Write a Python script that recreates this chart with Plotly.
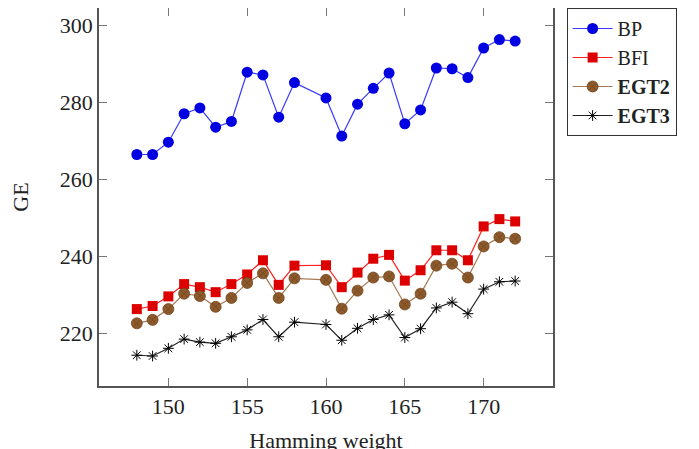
import plotly.graph_objects as go

hamming_weight = [148, 149, 150, 151, 152, 153, 154, 155, 156, 157, 158, 160,
                  161, 162, 163, 164, 165, 166, 167, 168, 169, 170, 171, 172]

bp = [266.5, 266.5, 269.7, 277.1, 278.6, 273.6, 275.1, 287.9, 287.2, 276.2, 285.2, 281.2,
      271.3, 279.6, 283.7, 287.7, 274.5, 278.1, 289.0, 288.8, 286.5, 294.2, 296.4, 296.0]
bfi = [226.3, 227.1, 229.6, 232.8, 232.0, 230.7, 232.8, 235.3, 239.0, 232.6, 237.6, 237.7,
       232.0, 235.8, 239.4, 240.4, 233.7, 236.4, 241.6, 241.6, 239.0, 247.8, 249.7, 249.1]
egt2 = [222.6, 223.5, 226.3, 230.3, 229.7, 226.9, 229.2, 233.1, 235.6, 229.2, 234.3, 233.9,
        226.4, 231.1, 234.5, 234.8, 227.5, 230.3, 237.6, 238.1, 234.5, 242.6, 245.0, 244.6]
egt3 = [214.3, 214.1, 216.1, 218.5, 217.7, 217.4, 219.1, 220.9, 223.6, 219.1, 222.9, 222.3,
        218.2, 221.3, 223.6, 224.8, 218.9, 221.2, 226.6, 228.1, 225.1, 231.5, 233.4, 233.6]

series_names = ["BP", "BFI", "<b>EGT2</b>", "<b>EGT3</b>"]
x_ticks = [150, 155, 160, 165, 170]
y_ticks = [220, 240, 260, 280, 300]

FONT = "Liberation Serif"

fig = go.Figure()
fig.add_trace(go.Scatter(
    x=hamming_weight, y=bp, name=series_names[0], mode="lines+markers",
    line=dict(color="#3a3aff", width=1.2),
    marker=dict(symbol="circle", size=11, color="#0000e0", line=dict(width=0))))
fig.add_trace(go.Scatter(
    x=hamming_weight, y=bfi, name=series_names[1], mode="lines+markers",
    line=dict(color="#ff2020", width=1.2),
    marker=dict(symbol="square", size=10, color="#dd0000", line=dict(width=0))))
fig.add_trace(go.Scatter(
    x=hamming_weight, y=egt2, name=series_names[2], mode="lines+markers",
    line=dict(color="#a57a55", width=1.2),
    marker=dict(symbol="circle-x", size=11, color="#8c5a2c",
                line=dict(width=0.8, color="#74461c"))))
fig.add_trace(go.Scatter(
    x=hamming_weight, y=egt3, name=series_names[3], mode="lines+markers",
    line=dict(color="#222222", width=1.2),
    marker=dict(symbol="asterisk-open", size=9, color="black",
                line=dict(width=1, color="black"))))

axis_common = dict(
    showgrid=False, zeroline=False, showline=True, linecolor="#555555", linewidth=1.5,
    mirror="allticks", ticks="inside", ticklen=8, tickcolor="#777777", tickwidth=1,
    tickfont=dict(family=FONT, size=22, color="#222"),
)

# the page body adds an 8px offset, so margins are compensated
fig.update_layout(
    width=699, height=449,
    paper_bgcolor="white", plot_bgcolor="white",
    margin=dict(l=91, r=154, t=0, b=71, autoexpand=False),
    font=dict(family=FONT, size=21, color="#222"),
    xaxis=dict(range=[145.6, 174.4], tickvals=x_ticks, ticktext=[str(v) for v in x_ticks],
               title=dict(text="Hamming weight", font=dict(family=FONT, size=22), standoff=14),
               automargin=False, **axis_common),
    yaxis=dict(range=[206.3, 304.6], tickvals=y_ticks, ticktext=[str(v) for v in y_ticks],
               title=dict(text="GE", font=dict(family=FONT, size=22), standoff=30),
               automargin=False, **axis_common),
    legend=dict(x=1.03, xanchor="left", y=1.0, yanchor="top",
                bordercolor="#333", borderwidth=1, bgcolor="white",
                font=dict(family=FONT, size=20), itemwidth=40,
                tracegroupgap=0),
    showlegend=True,
)

fig.write_html("out.html")
